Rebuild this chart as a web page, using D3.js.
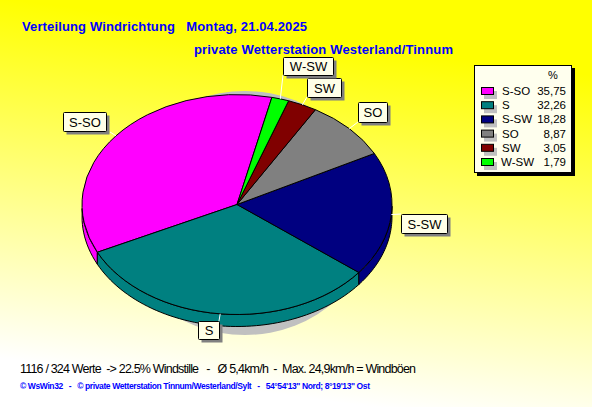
<!DOCTYPE html>
<html><head><meta charset="utf-8">
<script src="https://cdn.jsdelivr.net/npm/d3@7"></script>
<style>
html,body{margin:0;padding:0;overflow:hidden;background:#fff}
svg{display:block}
text{white-space:pre;font-family:"Liberation Sans",Arial,sans-serif}
</style></head><body>
<svg id="c" width="592" height="407"></svg>
<script>
const categories=["S-SO","S","S-SW","SO","SW","W-SW"];
const shares=[35.75,32.26,18.28,8.87,3.05,1.79];
const shareLabels=["35,75","32,26","18,28","8,87","3,05","1,79"];
const sliceColors=["#ff00ff","#008080","#000080","#808080","#800000","#00ff00"];
const titleLine1="Verteilung Windrichtung   Montag, 21.04.2025";
const titleLine2="private Wetterstation Westerland/Tinnum";
const footer1="1116 / 324 Werte  -> 22.5% Windstille   -   Ø 5,4km/h  -  Max. 24,9km/h = Windböen";
const footer2="© WsWin32   -   © private Wetterstation Tinnum/Westerland/Sylt   -   54°54'13\" Nord; 8°19'13\" Ost";

const svg=d3.select("#c");
const W=592,H=407;
const defs=svg.append("defs");
const g=defs.append("linearGradient").attr("id","bg").attr("gradientUnits","userSpaceOnUse")
  .attr("x1",W*0.56).attr("y1",0).attr("x2",W*0.47).attr("y2",H);
g.append("stop").attr("offset","0.0").attr("stop-color","#ffff00");
g.append("stop").attr("offset","0.1").attr("stop-color","#ffff00");
g.append("stop").attr("offset","0.97").attr("stop-color","#ffffff");
svg.append("rect").attr("width",W).attr("height",H).attr("fill","url(#bg)");

const t=(x,y,s,o={})=>svg.append("text").attr("x",x).attr("y",y).text(s)
  .attr("font-size",o.size||12).attr("font-weight",o.w||"normal").attr("fill",o.fill||"#000")
  .attr("text-anchor",o.a||"start").call(e=>{if(o.len)e.attr("textLength",o.len).attr("lengthAdjust","spacing")});

t(22,31,titleLine1,{size:13,w:"bold",fill:"#0000ff",len:285});
t(194,54,titleLine2,{size:13,w:"bold",fill:"#0000ff",len:259});

const cx=237,cy=204.5,rx=155,ry=110,depth=12;
const deg=Math.PI/180;
const pie=d3.pie().sort(null).value(d=>d).startAngle(13*deg).endAngle((13-360)*deg);
const arcs=pie(shares);
const px=a=>cx+rx*Math.sin(a), py=a=>cy-ry*Math.cos(a);

svg.append("ellipse").attr("cx",245).attr("cy",213).attr("rx",130).attr("ry",122).attr("fill","#c0c0c0");

const unit=d3.arc().innerRadius(0).outerRadius(1);
const ln=d3.line();
const sideGroup=svg.append("g");
arcs.forEach((d,i)=>{
  const a0=Math.min(d.startAngle,d.endAngle),a1=Math.max(d.startAngle,d.endAngle);
  const pts=d3.range(0,61).map(k=>a0+(a1-a0)*k/60);
  const front=pts.filter(a=>Math.cos(a)<=0.0);
  if(front.length<2) return;
  const top=front.map(a=>[px(a),py(a)]);
  const bot=front.slice().reverse().map(a=>[px(a),py(a)+depth]);
  sideGroup.append("path").attr("d",ln(top.concat(bot))+"Z")
    .attr("fill",sliceColors[i]).attr("stroke","#000").attr("stroke-width",1);
});

const topGroup=svg.append("g").attr("transform",`translate(${cx},${cy}) scale(${rx},${ry})`);
topGroup.selectAll("path").data(arcs).join("path")
  .attr("d",d=>unit({startAngle:d.endAngle,endAngle:d.startAngle}))
  .attr("fill",(d,i)=>sliceColors[i]).attr("stroke","#000").attr("stroke-width",1)
  .attr("vector-effect","non-scaling-stroke");

const labelBox={ "S-SO":[63,112,43,19],"S":[198,321,21,18],"S-SW":[401,214,46,19],"SO":[358,102,29,20],"SW":[307,78,34,19],"W-SW":[283,57,50,18] };
const labelEnd={ "S-SO":[110,132],"S":[219,321],"S-SW":[401,214],"SO":[358,122],"SW":[307,97],"W-SW":[283,75] };
arcs.forEach((d,i)=>{
  const name=categories[i];
  const m=(d.startAngle+d.endAngle)/2;
  const [bx,by,bw,bh]=labelBox[name];
  const e=labelEnd[name];
  svg.append("line").attr("x1",px(m)).attr("y1",py(m)).attr("x2",e[0]).attr("y2",e[1]).attr("stroke","#fff").attr("stroke-width",1);
  svg.append("rect").attr("x",bx+3.5).attr("y",by+3.5).attr("width",bw).attr("height",bh).attr("fill","#808080");
  svg.append("rect").attr("x",bx+.5).attr("y",by+.5).attr("width",bw).attr("height",bh).attr("fill","#ffffe8").attr("stroke","#000").attr("rx",1);
  t(bx+bw/2+.5,by+bh/2+5,name,{size:13,a:"middle"});
});

const lx=474,ly=65,lw=97,lh=107;
svg.append("rect").attr("x",lx+3).attr("y",ly+3).attr("width",lw+1).attr("height",lh+1).attr("fill","#000");
svg.append("rect").attr("x",lx+.5).attr("y",ly+.5).attr("width",lw).attr("height",lh).attr("fill","#ffffee").attr("stroke","#000");
t(553,79,"%",{size:11,a:"middle"});
const rowY=d3.scalePoint().domain(categories).range([91,162]);
categories.forEach((c,i)=>{
  const y=rowY(c);
  svg.append("rect").attr("x",484).attr("y",y).attr("width",13).attr("height",8).attr("fill","#c0c0c0");
  svg.append("rect").attr("x",481.5).attr("y",y-3.5).attr("width",12).attr("height",7).attr("fill",sliceColors[i]).attr("stroke","#000");
  t(c==="W-SW"?501:502,y+4,c,{size:11.5});
  t(566,y+4,shareLabels[i],{size:11.5,a:"end"});
});

t(20,373,footer1,{size:12.5,len:396});
t(20,389,footer2,{size:8.5,w:"bold",fill:"#0000ff",len:350});
</script></body></html>
